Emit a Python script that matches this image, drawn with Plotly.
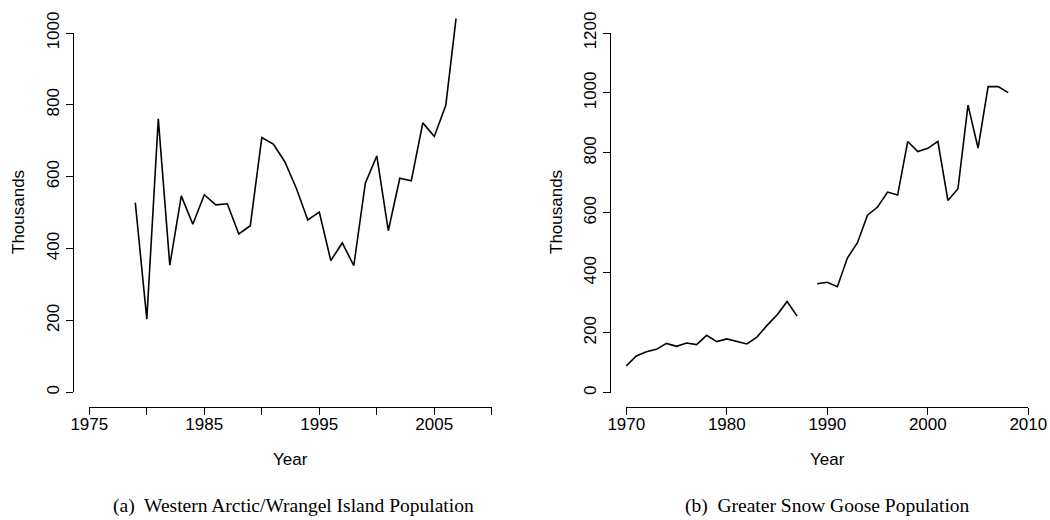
import plotly.graph_objects as go

# Western Arctic / Wrangel Island population (thousands)
wa_years = list(range(1979, 2008))
wa_values = [528, 204, 761, 354, 547, 468, 550, 522, 525, 441, 464,
             709, 691, 642, 568, 480, 502, 367, 416, 353, 582, 658,
             450, 596, 589, 750, 712, 799, 1070]

# Greater Snow Goose population (thousands); 1988 not surveyed
gs_years = list(range(1970, 2009))
gs_values = [89, 122, 136, 144, 164, 154, 165, 160, 191, 170, 179,
             171, 162, 185, 224, 259, 304, 255, None, 363, 368, 353,
             449, 500, 592, 619, 669, 659, 838, 804, 815, 838, 641,
             680, 959, 816, 1021, 1021, 1001]

left_xticks = [1975, 1980, 1985, 1990, 1995, 2000, 2005, 2010]
left_xlabels = ["1975", "", "1985", "", "1995", "", "2005", ""]
left_yticks = [0, 200, 400, 600, 800, 1000]
right_xticks = [1970, 1980, 1990, 2000, 2010]
right_yticks = [0, 200, 400, 600, 800, 1000, 1200]

W, H = 1050, 520


def px_x(p):
    return p / W


def px_y(p):
    return 1 - p / H


AX_FONT = dict(family="Liberation Sans, Arial, sans-serif", size=17, color="black")
CAP_FONT = dict(family="Liberation Serif, DejaVu Serif, serif", size=19.5, color="black")

fig = go.Figure()

fig.add_trace(go.Scatter(x=wa_years, y=wa_values, mode="lines",
                         line=dict(color="black", width=1.6),
                         xaxis="x", yaxis="y", showlegend=False))
fig.add_trace(go.Scatter(x=gs_years, y=gs_values, mode="lines",
                         line=dict(color="black", width=1.6),
                         connectgaps=False,
                         xaxis="x2", yaxis="y2", showlegend=False))

hidden = dict(visible=False, showgrid=False, zeroline=False,
              fixedrange=True, automargin=False)
tick_style = dict(showline=True, linecolor="black", linewidth=1,
                  ticks="outside", ticklen=7, tickcolor="black", tickwidth=1,
                  showgrid=False, zeroline=False, tickfont=AX_FONT,
                  automargin=False, fixedrange=True)

plot_top, plot_bot = px_y(18.6), px_y(406.9)

fig.update_layout(
    width=W, height=H,
    margin=dict(l=0, r=0, t=0, b=0, autoexpand=False),
    paper_bgcolor="white", plot_bgcolor="rgba(0,0,0,0)",
    # data axes (R-style 4% padded ranges)
    xaxis=dict(domain=[px_x(73.2), px_x(507.9)], range=[1973.6, 2011.4],
               anchor="y", **hidden),
    yaxis=dict(domain=[plot_bot, plot_top], range=[-40, 1040],
               anchor="x", **hidden),
    xaxis2=dict(domain=[px_x(610.2), px_x(1044.4)], range=[1968.4, 2011.6],
                anchor="y2", **hidden),
    yaxis2=dict(domain=[plot_bot, plot_top], range=[-48, 1248],
                anchor="x2", **hidden),
    # visible detached axes spanning the tick range only
    xaxis3=dict(domain=[px_x(89.3), px_x(491.7)], range=[1975, 2010],
                anchor="free", position=plot_bot, ticklabelstandoff=-5,
                tickvals=left_xticks, ticktext=left_xlabels, **tick_style),
    yaxis3=dict(domain=[px_y(392.3), px_y(33.0)], range=[0, 1000],
                anchor="free", position=px_x(73.2),
                tickvals=left_yticks, tickangle=-90, **tick_style),
    xaxis4=dict(domain=[px_x(626.3), px_x(1028.3)], range=[1970, 2010],
                anchor="free", position=plot_bot, ticklabelstandoff=-5,
                tickvals=right_xticks, **tick_style),
    yaxis4=dict(domain=[px_y(392.7), px_y(33.0)], range=[0, 1200],
                anchor="free", position=px_x(610.2),
                tickvals=right_yticks, tickangle=-90, **tick_style),
)

# empty traces so the tick-only axes are rendered
fig.add_trace(go.Scatter(x=[None], y=[None], xaxis="x3", yaxis="y3",
                         showlegend=False, hoverinfo="skip"))
fig.add_trace(go.Scatter(x=[None], y=[None], xaxis="x4", yaxis="y4",
                         showlegend=False, hoverinfo="skip"))

annotations = [
    dict(text="Year", x=px_x(290.5), y=px_y(459), font=AX_FONT),
    dict(text="Year", x=px_x(827.3), y=px_y(459), font=AX_FONT),
    dict(text="Thousands", x=px_x(18), y=px_y(212), textangle=-90, font=AX_FONT),
    dict(text="Thousands", x=px_x(556), y=px_y(212), textangle=-90, font=AX_FONT),
    dict(text="(a)  Western Arctic/Wrangel Island Population",
         x=px_x(293), y=px_y(506), font=CAP_FONT),
    dict(text="(b)  Greater Snow Goose Population",
         x=px_x(827), y=px_y(506), font=CAP_FONT),
]
for a in annotations:
    fig.add_annotation(xref="paper", yref="paper", showarrow=False,
                       xanchor="center", yanchor="middle", **a)

fig.write_html("out.html")
